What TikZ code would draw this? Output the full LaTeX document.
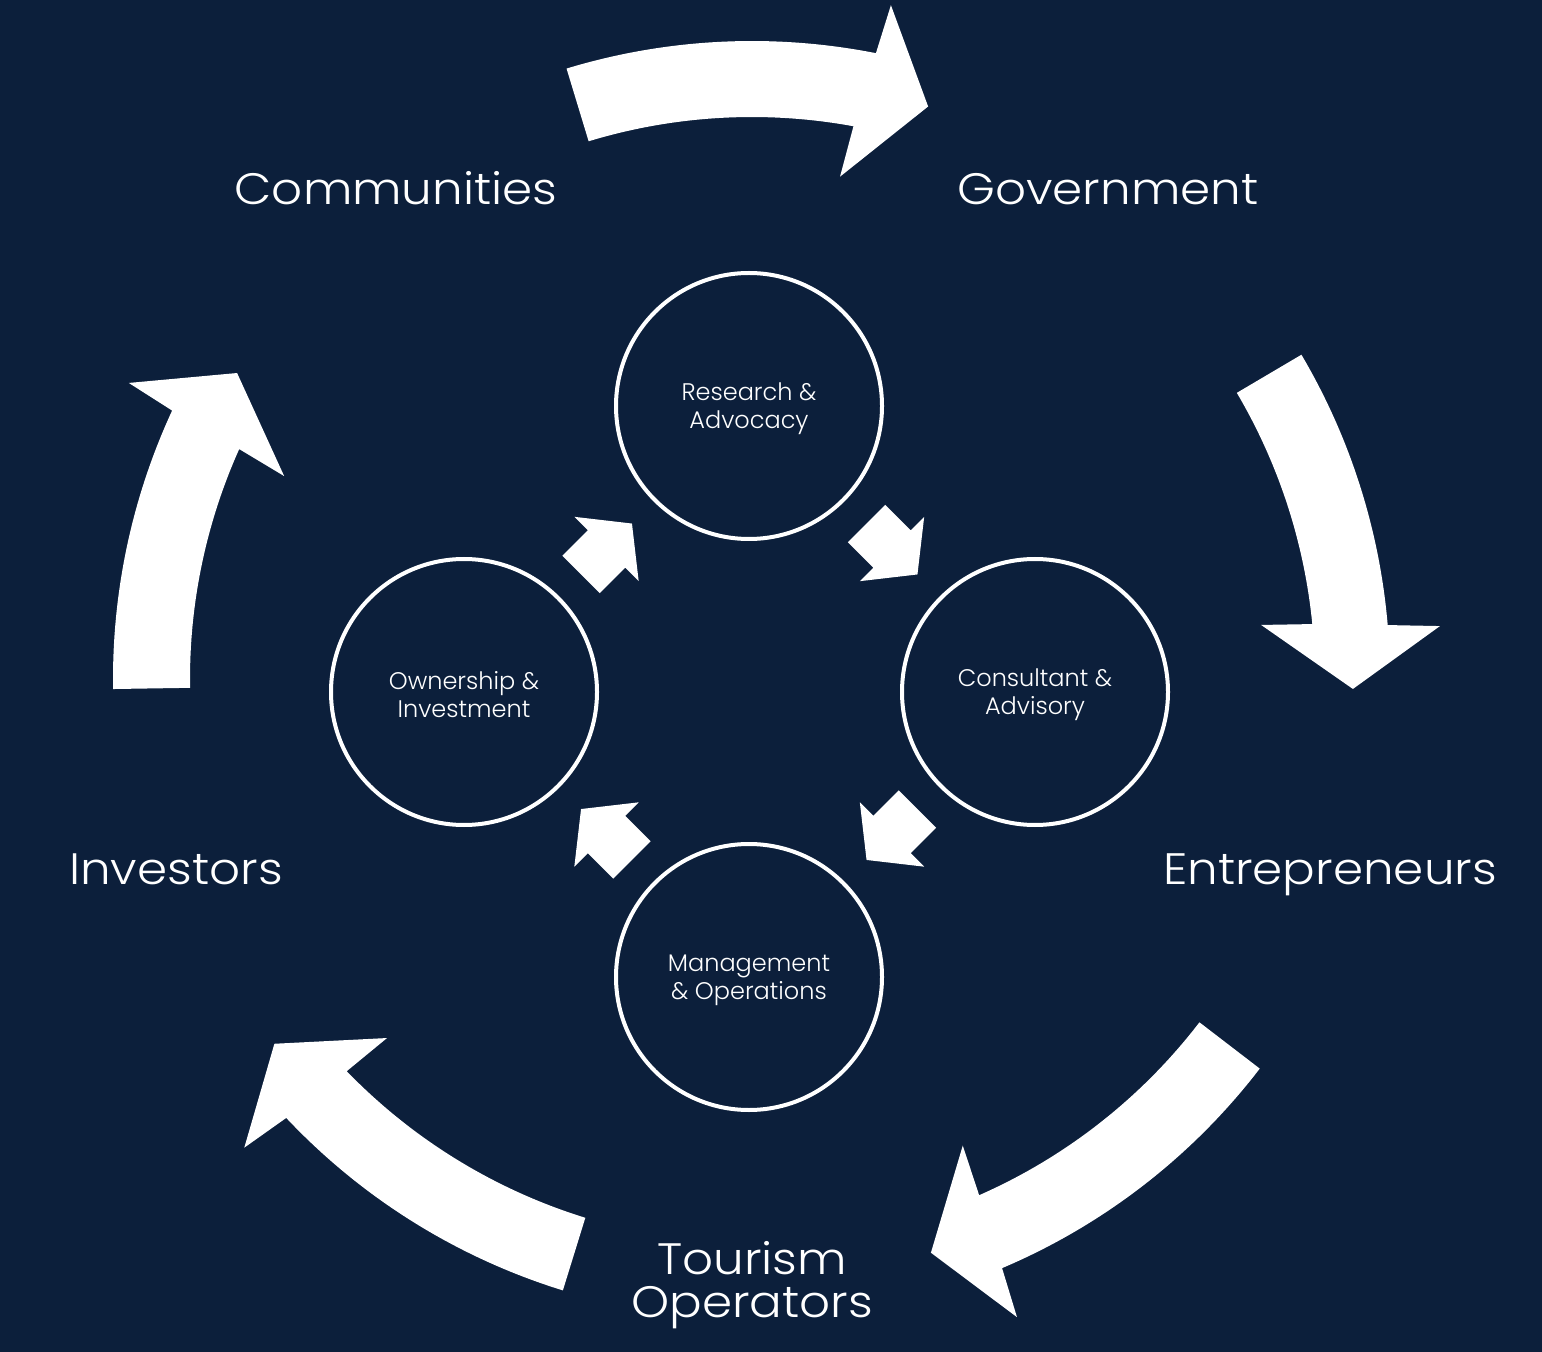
\documentclass[tikz,border=0pt]{standalone}
\usepackage{fontspec}
\IfFontExistsTF{Poppins Light}
  {\setmainfont{Poppins Light}\newfontfamily\labelfont[FakeStretch=1.1]{Poppins Light}}
  {\setmainfont{Poppins}\newfontfamily\labelfont[FakeStretch=1.1]{Poppins}}
\usetikzlibrary{calc}
\definecolor{navy}{RGB}{12,31,59}
\begin{document}
\begin{tikzpicture}[x=0.5pt,y=0.5pt,
  hub/.style={circle,draw=white,line width=2pt,minimum size=133pt,inner sep=0pt},
  hubtext/.style={text=white,font=\fontsize{12}{14}\selectfont,align=center,inner sep=0pt},
  actor/.style={text=white,font=\labelfont\fontsize{22}{21.5}\selectfont,align=center,inner sep=0pt},
  bigarrow/.style={fill=white},
  pics/blockarrow/.style={code={
    \fill[white] (-36,-26.5) -- (0,-26.5) -- (0,-45.5) -- (36,0) -- (0,45.5) -- (0,26.5) -- (-36,26.5) -- cycle;}}]
\fill[navy] (0,0) rectangle (1542,-1352);
\useasboundingbox (0,0) rectangle (1542,-1352);

% inner circles
\node[hub] (research) at (749,-406) {};
\node[hub] (consult) at (1035,-692) {};
\node[hub] (manage) at (749,-977) {};
\node[hub] (own) at (464,-692) {};
\node[hubtext] (researchtext) at ([yshift=-1.5pt]research.center) {Research \&\\Advocacy};
\node[hubtext] (consulttext) at ([yshift=-1.5pt]consult.center) {Consultant \&\\Advisory};
\node[hubtext] (managetext) at ([yshift=-1.5pt]manage.center) {Management\\\& Operations};
\node[hubtext] (owntext) at ([yshift=-1.5pt]own.center) {Ownership \&\\Investment};

% small block arrows between circles
\pic[rotate=-45] at ($(research)!0.5!(consult)$) {blockarrow};
\pic[rotate=-135] at ($(consult)!0.5!(manage)$) {blockarrow};
\pic[rotate=135] at ($(manage)!0.5!(own)$) {blockarrow};
\pic[rotate=45] at ($(own)!0.5!(research)$) {blockarrow};

% outer curved arrows
\coordinate (O) at (752,-679);
\begin{scope}[shift={(O)}]
\fill[bigarrow] (106.9:638) arc[start angle=106.9,end angle=78.8,radius=638]
  -- (78.35:688) -- (72.9:599) -- (80.06:510) -- (79.6:562)
  arc[start angle=79.6,end angle=106.9,radius=562] -- cycle;
\fill[bigarrow] (30.55:638) arc[start angle=30.55,end angle=4.85,radius=638]
  -- (4.4:690) -- (-0.95:601) -- (6.06:512) -- (5.6:563)
  arc[start angle=5.6,end angle=30.55,radius=563] -- cycle;
\fill[bigarrow] (-37.5:640) arc[start angle=-37.5,end angle=-67.0,radius=640]
  -- (-67.45:691) -- (-72.68:601) -- (-65.69:512) -- (-66.25:564)
  arc[start angle=-66.25,end angle=-37.5,radius=564] -- cycle;
\fill[bigarrow] (-107.19:640) arc[start angle=-107.19,end angle=-136.7,radius=640]
  -- (-137.29:691) -- (-142.63:601) -- (-135.47:512) -- (-135.94:564)
  arc[start angle=-135.94,end angle=-107.19,radius=564] -- cycle;
\fill[bigarrow] (180.9:639) arc[start angle=180.9,end angle=155.16,radius=639]
  -- (154.59:690) -- (149.28:599) -- (156.55:510) -- (155.85:562)
  arc[start angle=155.85,end angle=180.9,radius=562] -- cycle;
\end{scope}

% outer labels
\node[actor,anchor=base] (communities) at (396,-205) {Communities};
\node[actor,anchor=base] (government) at (1108,-205) {Government};
\node[actor,anchor=base] (entrepreneurs) at (1330,-884) {Entrepreneurs};
\node[actor,anchor=base] (investors) at (176,-884) {Investors};
\node[actor,anchor=base] (tourism) at (752,-1317) {Tourism\\Operators};
\end{tikzpicture}
\end{document}
